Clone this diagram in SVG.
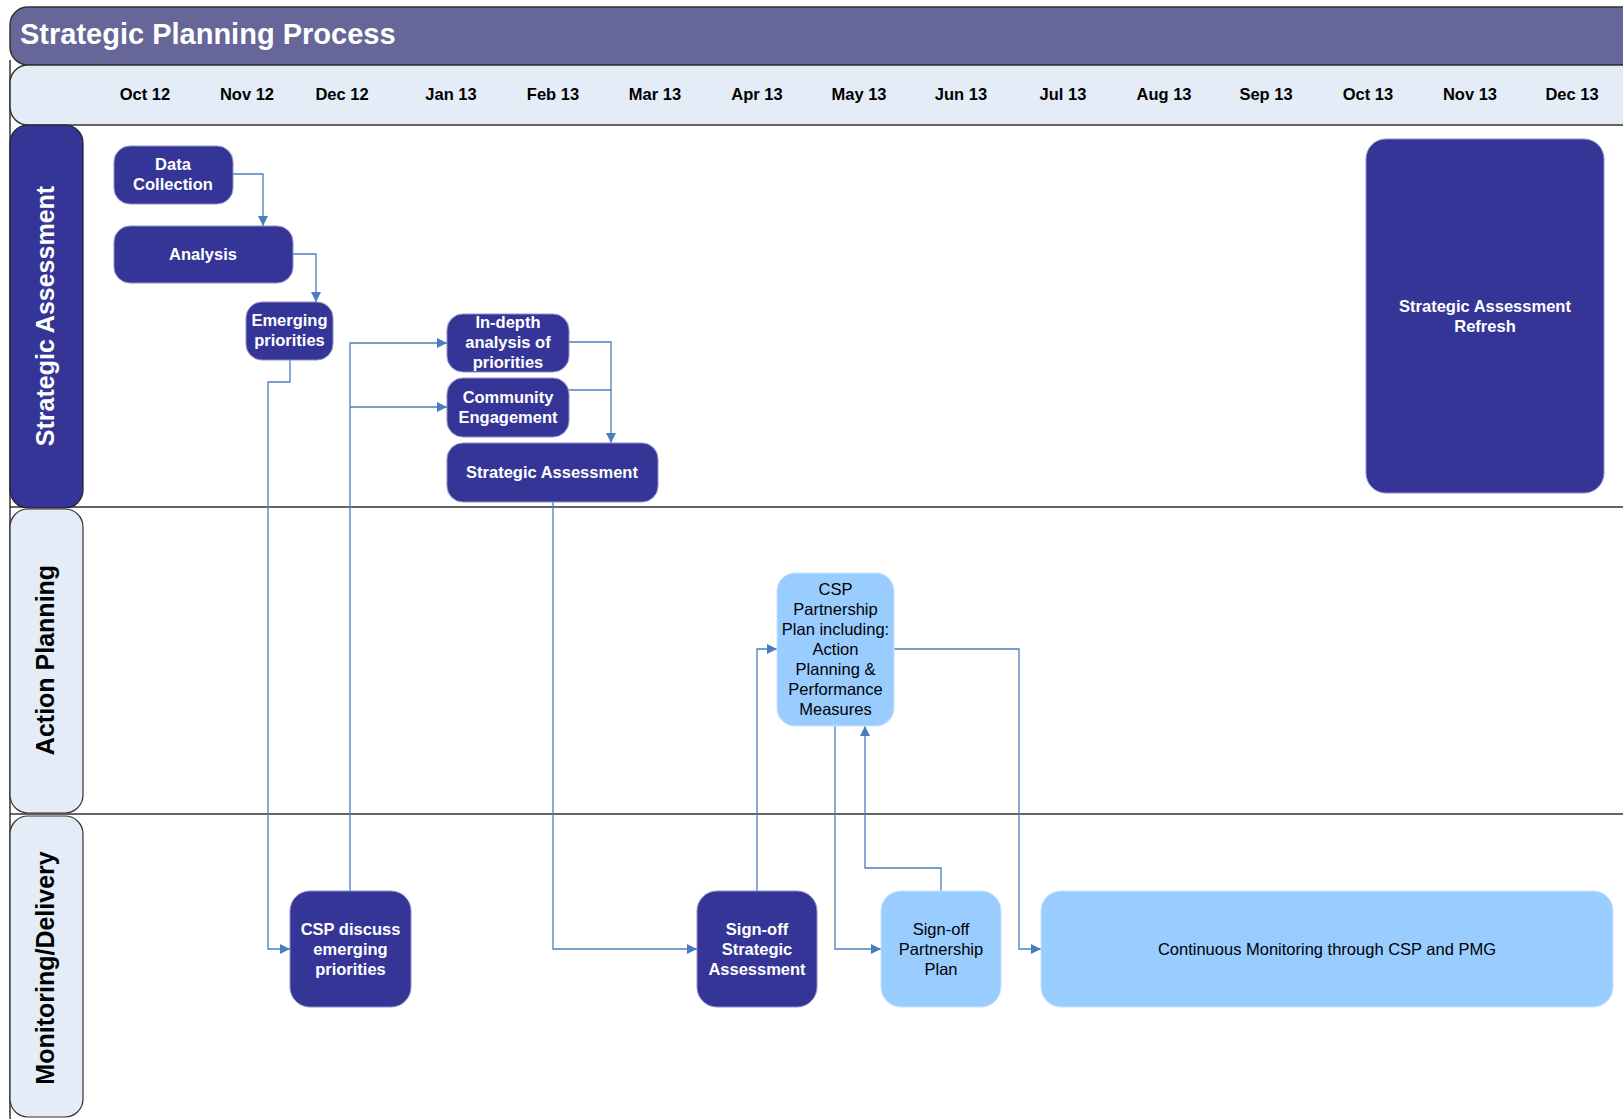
<svg xmlns="http://www.w3.org/2000/svg" width="1623" height="1119" viewBox="0 0 1623 1119">
<style>
.frame{stroke:#333;stroke-width:1.5}
.dark{fill:#353598;stroke:#8f8fc8;stroke-width:1}
.light{fill:#99ccff;stroke:#c8e2ff;stroke-width:1}
.lanehd{fill:#e4ecf7;stroke:#333;stroke-width:1.2}
.wt{font-family:"Liberation Sans",Arial,sans-serif;font-weight:bold;font-size:16.5px;fill:#fff;text-anchor:middle}
.bt{font-family:"Liberation Sans",Arial,sans-serif;font-size:16.5px;fill:#000;text-anchor:middle}
.mon{font-family:"Liberation Sans",Arial,sans-serif;font-weight:bold;font-size:16.5px;fill:#000;text-anchor:middle}
.lane{font-family:"Liberation Sans",Arial,sans-serif;font-weight:bold;font-size:25px;text-anchor:middle}
.conn{fill:none;stroke:#4a7ebb;stroke-width:1.3}
</style>
<defs>
<marker id="arr" viewBox="0 0 10 10" refX="10" refY="5" markerWidth="10" markerHeight="10" markerUnits="userSpaceOnUse" orient="auto">
<path d="M0,0 L10,5 L0,10 z" fill="#4a7ebb"/>
</marker>
</defs>
<rect width="1623" height="1119" fill="#fff"/>
<g id="frame">
<line x1="10" y1="60" x2="10" y2="1119" class="frame"/>
<rect x="10" y="7" width="1660" height="58" rx="18" fill="#666699" class="frame"/>
<text x="20" y="44" font-family="Liberation Sans,Arial,sans-serif" font-weight="bold" font-size="29" fill="#fff">Strategic Planning Process</text>
<rect x="10" y="65" width="1660" height="60" rx="18" fill="#e4ecf7" class="frame"/>
<line x1="10" y1="507" x2="1623" y2="507" class="frame"/>
<line x1="10" y1="814" x2="1623" y2="814" class="frame"/>
</g>
<g id="months" class="mon">
<text x="145" y="100">Oct 12</text>
<text x="247" y="100">Nov 12</text>
<text x="342" y="100">Dec 12</text>
<text x="451" y="100">Jan 13</text>
<text x="553" y="100">Feb 13</text>
<text x="655" y="100">Mar 13</text>
<text x="757" y="100">Apr 13</text>
<text x="859" y="100">May 13</text>
<text x="961" y="100">Jun 13</text>
<text x="1063" y="100">Jul 13</text>
<text x="1164" y="100">Aug 13</text>
<text x="1266" y="100">Sep 13</text>
<text x="1368" y="100">Oct 13</text>
<text x="1470" y="100">Nov 13</text>
<text x="1572" y="100">Dec 13</text>
</g>
<g id="lane-strategic">
<rect x="10" y="125" width="73" height="383" rx="18" fill="#353598" stroke="#222" stroke-width="1.2"/>
<text class="lane" fill="#fff" transform="translate(54,316) rotate(-90)">Strategic Assessment</text>
</g>
<g id="lane-action">
<rect x="10" y="509" width="73" height="304" rx="18" class="lanehd"/>
<text class="lane" fill="#000" transform="translate(54,660) rotate(-90)">Action Planning</text>
</g>
<g id="lane-monitoring">
<rect x="10" y="816" width="73" height="301" rx="18" class="lanehd"/>
<text class="lane" fill="#000" transform="translate(54,968) rotate(-90)">Monitoring/Delivery</text>
</g>
<g id="connectors">
<path class="conn" d="M233,174 H263 V226" marker-end="url(#arr)"/>
<path class="conn" d="M293,254 H316 V302" marker-end="url(#arr)"/>
<path class="conn" d="M290,360 V382 H268 V949 H290" marker-end="url(#arr)"/>
<path class="conn" d="M350,891 V343 H447" marker-end="url(#arr)"/>
<path class="conn" d="M350,407 H447" marker-end="url(#arr)"/>
<path class="conn" d="M569,342 H611 V443" marker-end="url(#arr)"/>
<path class="conn" d="M569,390 H611"/>
<path class="conn" d="M553,502 V949 H697" marker-end="url(#arr)"/>
<path class="conn" d="M757,891 V649 H777" marker-end="url(#arr)"/>
<path class="conn" d="M835,726 V949 H881" marker-end="url(#arr)"/>
<path class="conn" d="M941,891 V868 H865 V726" marker-end="url(#arr)"/>
<path class="conn" d="M894,649 H1019 V949 H1041" marker-end="url(#arr)"/>
</g>
<g id="data-collection">
<rect x="114" y="146" width="119" height="58" rx="16" class="dark"/>
<text class="wt" x="173" y="170">Data</text>
<text class="wt" x="173" y="190">Collection</text>
</g>
<g id="analysis">
<rect x="114" y="226" width="179" height="57" rx="16" class="dark"/>
<text class="wt" x="203" y="260">Analysis</text>
</g>
<g id="emerging-priorities">
<rect x="246" y="302" width="87" height="58" rx="16" class="dark"/>
<text class="wt" x="289.5" y="326">Emerging</text>
<text class="wt" x="289.5" y="346">priorities</text>
</g>
<g id="indepth">
<rect x="447" y="314" width="122" height="58" rx="16" class="dark"/>
<text class="wt" x="508" y="328">In-depth</text>
<text class="wt" x="508" y="348">analysis of</text>
<text class="wt" x="508" y="368">priorities</text>
</g>
<g id="community">
<rect x="447" y="378" width="122" height="59" rx="16" class="dark"/>
<text class="wt" x="508" y="403">Community</text>
<text class="wt" x="508" y="423">Engagement</text>
</g>
<g id="strategic-assessment">
<rect x="447" y="443" width="211" height="59" rx="16" class="dark"/>
<text class="wt" x="552" y="478">Strategic Assessment</text>
</g>
<g id="sa-refresh">
<rect x="1366" y="139" width="238" height="354" rx="20" class="dark"/>
<text class="wt" x="1485" y="312">Strategic Assessment</text>
<text class="wt" x="1485" y="332">Refresh</text>
</g>
<g id="csp-plan">
<rect x="777" y="573" width="117" height="153" rx="18" class="light"/>
<text class="bt" x="835.5" y="595">CSP</text>
<text class="bt" x="835.5" y="615">Partnership</text>
<text class="bt" x="835.5" y="635">Plan including:</text>
<text class="bt" x="835.5" y="655">Action</text>
<text class="bt" x="835.5" y="675">Planning &amp;</text>
<text class="bt" x="835.5" y="695">Performance</text>
<text class="bt" x="835.5" y="715">Measures</text>
</g>
<g id="csp-discuss">
<rect x="290" y="891" width="121" height="116" rx="20" class="dark"/>
<text class="wt" x="350.5" y="935">CSP discuss</text>
<text class="wt" x="350.5" y="955">emerging</text>
<text class="wt" x="350.5" y="975">priorities</text>
</g>
<g id="signoff-sa">
<rect x="697" y="891" width="120" height="116" rx="20" class="dark"/>
<text class="wt" x="757" y="935">Sign-off</text>
<text class="wt" x="757" y="955">Strategic</text>
<text class="wt" x="757" y="975">Assessment</text>
</g>
<g id="signoff-pp">
<rect x="881" y="891" width="120" height="116" rx="20" class="light"/>
<text class="bt" x="941" y="935">Sign-off</text>
<text class="bt" x="941" y="955">Partnership</text>
<text class="bt" x="941" y="975">Plan</text>
</g>
<g id="continuous">
<rect x="1041" y="891" width="572" height="116" rx="20" class="light"/>
<text class="bt" x="1327" y="955">Continuous Monitoring through CSP and PMG</text>
</g>
</svg>
